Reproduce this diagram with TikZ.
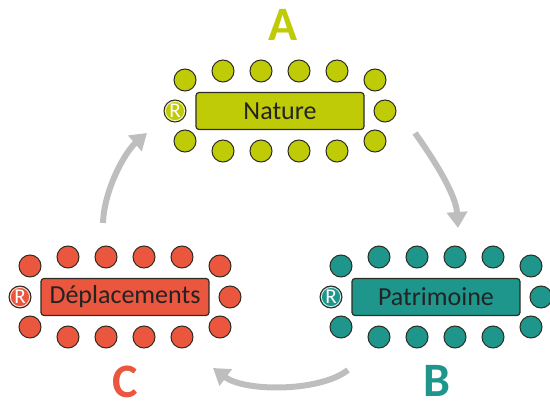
\documentclass[tikz,border=0pt]{standalone}
\usepackage{fontspec}
\setmainfont{Carlito}
\usetikzlibrary{arrows.meta}
\definecolor{limeA}{RGB}{192,203,8}
\definecolor{tealB}{RGB}{30,150,140}
\definecolor{redC}{RGB}{234,86,62}
\definecolor{arrowgray}{RGB}{190,190,190}
\definecolor{edgedark}{RGB}{45,45,35}
\definecolor{textdark}{RGB}{35,35,35}
\tikzset{
  tablebox/.style={draw=edgedark, line width=1.2pt, rounded corners=3pt,
    minimum width=168pt, minimum height=37pt, inner sep=0pt,
    font=\fontsize{26}{26}\selectfont, text=textdark},
  seat/.style={circle, draw=edgedark, line width=1pt, minimum size=22pt, inner sep=0pt},
  rseat/.style={seat, text=white, font=\fontsize{21}{21}\selectfont},
  rring/.style={draw=white, line width=0.8pt, opacity=0.85},
  biglabel/.style={font=\fontsize{48}{48}\selectfont\bfseries, inner sep=0pt},
  cyclearrow/.style={draw=arrowgray, line width=6pt,
    -{Triangle[width=20pt,length=16pt]}},
}
\newcommand\tablegroup[5]{%
  \node[tablebox, fill=#4] (#1box) at (#2,#3) {#5};
  \foreach \dx [count=\i] in {-57,-19,19,57} {
    \node[seat, fill=#4] (#1t\i) at ({#2+\dx},{#3-40}) {};
    \node[seat, fill=#4] (#1b\i) at ({#2+\dx},{#3+40}) {};
  }
  \node[seat, fill=#4] (#1tl) at ({#2-95},{#3-31}) {};
  \node[seat, fill=#4] (#1tr) at ({#2+95},{#3-31}) {};
  \node[seat, fill=#4] (#1bl) at ({#2-95},{#3+30}) {};
  \node[seat, fill=#4] (#1br) at ({#2+95},{#3+30}) {};
  \node[seat, fill=#4] (#1rt) at ({#2+105},{#3}) {};
  \node[seat, fill=#4] (#1r) at ({#2-105},{#3}) {};
  \draw[rring] (#1r.center) circle (9.6pt);
  \node[text=white, font=\fontsize{21}{21}\selectfont, inner sep=0pt] (#1rtext) at (#1r.center) {R};
}
\begin{document}
\begin{tikzpicture}[x=1pt,y=-1pt]
\useasboundingbox (0,0) rectangle (550,406);
\clip (0,0) rectangle (550,406);

\tablegroup{A}{280}{111}{limeA}{Nature}
\tablegroup{B}{436}{297}{tealB}{Patrimoine}
\tablegroup{C}{125}{297}{redC}{Déplacements}

\node[biglabel, text=limeA] (labA) at (283,25) {A};
\node[biglabel, text=tealB] (labB) at (437,381) {B};
\node[biglabel, text=redC] (labC) at (125,382) {C};

\coordinate (ab1) at (415,133);
\coordinate (ab2) at (458,228);
\coordinate (bc1) at (348,370);
\coordinate (bc2) at (213,368);
\coordinate (ca1) at (103,223);
\coordinate (ca2) at (147,133);

\draw[cyclearrow] (ab1) .. controls (435,161) and (456,195) .. (ab2);
\draw[cyclearrow] (bc1) .. controls (320,392) and (245,392) .. (bc2);
\draw[cyclearrow] (ca1) .. controls (104,190) and (125,152) .. (ca2);
\end{tikzpicture}
\end{document}
